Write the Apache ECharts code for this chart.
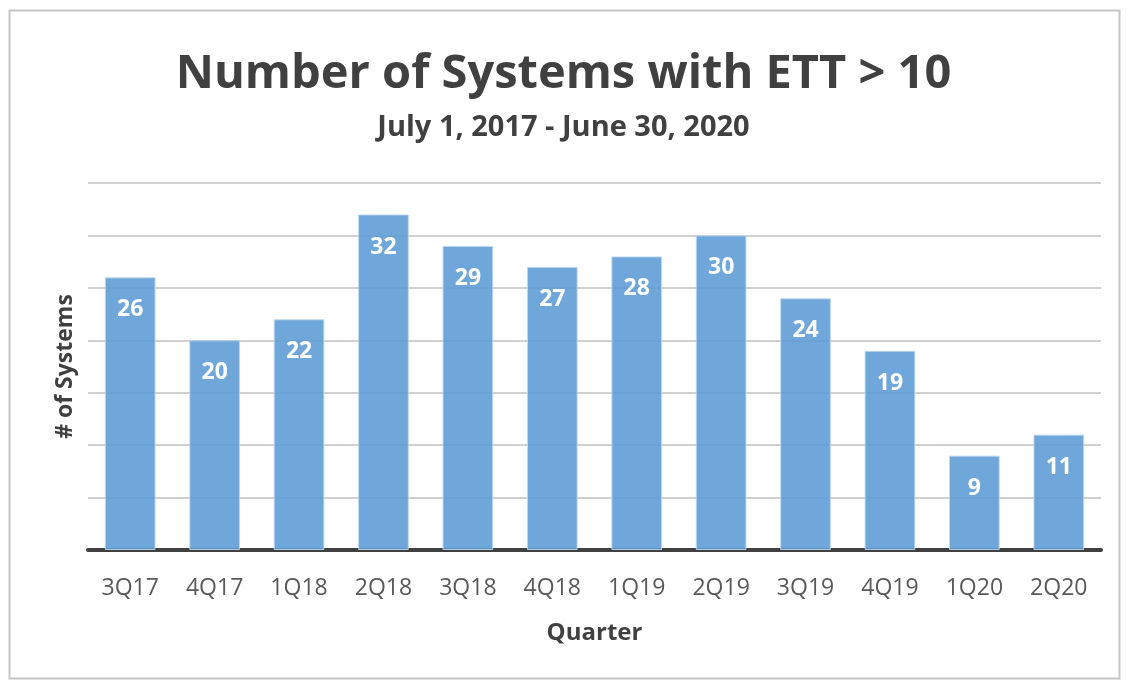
<!DOCTYPE html>
<html><head><meta charset="utf-8">
<script src="https://cdn.jsdelivr.net/npm/echarts@6/dist/echarts.min.js"></script>
<style>html,body{margin:0;padding:0;background:#fff}#c{width:1127px;height:681px}</style>
</head><body><div id="c"></div>
<script>
const categories = ['3Q17','4Q17','1Q18','2Q18','3Q18','4Q18','1Q19','2Q19','3Q19','4Q19','1Q20','2Q20'];
const systemCounts = [26,20,22,32,29,27,28,30,24,19,9,11];
const titleText = 'Number of Systems with ETT > 10';
const subtitleText = 'July 1, 2017 - June 30, 2020';
const xAxisTitle = 'Quarter';
const yAxisTitle = '# of Systems';

const chart = echarts.init(document.getElementById('c'));
const FONT = '"Open Sans", "Noto Sans", sans-serif';
chart.setOption({
  animation: false,
  backgroundColor: '#fff',
  graphic: [{
    type: 'rect', left: 7, top: 8, shape: {width: 1110, height: 668},
    style: {fill: 'none', stroke: '#c6c6c6', lineWidth: 2}, silent: true, z: -1
  }],
  title: [{
    text: titleText, left: 'center', top: 46,
    textStyle: {fontFamily: FONT, fontWeight: 'bold', fontSize: 47, color: '#404040'}
  }, {
    text: subtitleText, left: 'center', top: 108,
    textStyle: {fontFamily: FONT, fontWeight: 'bold', fontSize: 29, color: '#404040'}
  }],
  grid: {left: 88, right: 26, top: 183, bottom: 131, containLabel: false},
  xAxis: {
    type: 'category', data: categories,
    name: xAxisTitle, nameLocation: 'middle', nameGap: 71,
    nameTextStyle: {fontFamily: FONT, fontWeight: 'bold', fontSize: 24, color: '#404040'},
    axisLine: {show: true, lineStyle: {color: '#404040', width: 4}},
    axisTick: {show: false},
    axisLabel: {fontFamily: FONT, fontSize: 23, color: '#595959', margin: 27}
  },
  yAxis: {
    type: 'value', min: 0, max: 35, interval: 5,
    name: yAxisTitle, nameLocation: 'middle', nameGap: 11, nameRotate: 90,
    nameTextStyle: {fontFamily: FONT, fontWeight: 'bold', fontSize: 23, color: '#404040'},
    axisLine: {show: false}, axisTick: {show: false}, axisLabel: {show: false},
    splitLine: {show: true, lineStyle: {color: '#d0d0d0', width: 2}}
  },
  series: [{
    type: 'bar', data: systemCounts, barWidth: '60%',
    itemStyle: {color: 'rgba(91,155,213,0.88)', borderColor: 'rgba(189,215,238,0.9)', borderWidth: 1},
    label: {show: true, position: 'insideTop', distance: 21,
      fontFamily: FONT, fontWeight: 'bold', fontSize: 23, color: '#fff'}
  }]
});
</script></body></html>
